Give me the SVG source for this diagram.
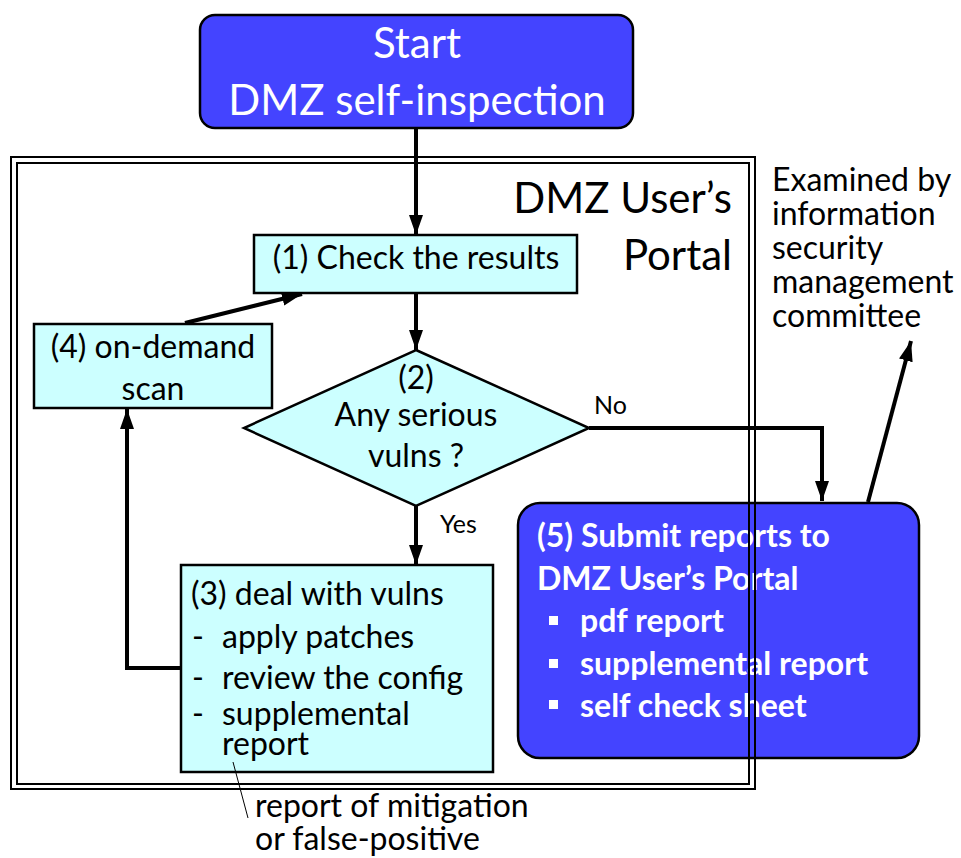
<svg xmlns="http://www.w3.org/2000/svg" width="961" height="858" viewBox="0 0 961 858">
<defs>
<style>
text{font-family:Lato,"Liberation Sans",sans-serif;fill:#000}
.t{font-size:32px}
.big{font-size:42px}
.sm{font-size:25px}
.w{fill:#fff}
.b{font-weight:bold}
.mid{text-anchor:middle}
.end{text-anchor:end}
.cyan{fill:#ccffff;stroke:#000;stroke-width:2.5}
.blue{fill:#4444ff;stroke:#000;stroke-width:2.5}
.con{fill:none;stroke:#000;stroke-width:4}
.frame{fill:none;stroke:#000;stroke-width:2}
</style>
<marker id="ah" markerUnits="userSpaceOnUse" markerWidth="22" markerHeight="16" refX="20" refY="7" orient="auto" viewBox="0 0 22 16">
<path d="M0,0 L20,7 L0,14 z" fill="#000"/>
</marker>
</defs>

<g id="start">
<rect class="blue" x="200" y="15" width="433" height="113" rx="15"/>
<text class="big w mid" x="417" y="58">Start</text>
<text class="big w mid" x="417" y="115">DMZ self-inspection</text>
</g>

<g id="n1">
<rect class="cyan" x="254" y="235" width="323" height="58"/>
<text class="t mid" x="416" y="269">(1) Check the results</text>
</g>

<g id="n2">
<polygon class="cyan" points="416,350 589,428 416,506 244,428"/>
<text class="t mid" x="416" y="389">(2)</text>
<text class="t mid" x="416" y="426">Any serious</text>
<text class="t mid" x="416" y="467">vulns ?</text>
</g>

<g id="n3">
<rect class="cyan" x="181" y="565" width="312" height="207"/>
<text class="t" x="191" y="605">(3) deal with vulns</text>
<text class="t" x="192" y="648">-</text>
<text class="t" x="222" y="648">apply patches</text>
<text class="t" x="192" y="689">-</text>
<text class="t" x="222" y="689">review the config</text>
<text class="t" x="192" y="725">-</text>
<text class="t" x="222" y="725">supplemental</text>
<text class="t" x="222" y="755">report</text>
</g>

<g id="n4">
<rect class="cyan" x="34" y="324" width="238" height="84"/>
<text class="t mid" x="153" y="358">(4) on-demand</text>
<text class="t mid" x="153" y="400">scan</text>
</g>

<g id="n5">
<rect class="blue" x="518" y="503" width="401" height="255" rx="22"/>
<text class="t w b" x="537" y="547">(5) Submit reports to</text>
<text class="t w b" x="537" y="590">DMZ User’s Portal</text>
<rect x="549" y="616" width="9" height="9" fill="#fff"/>
<text class="t w b" x="580" y="632">pdf report</text>
<rect x="549" y="659" width="9" height="9" fill="#fff"/>
<text class="t w b" x="580" y="675">supplemental report</text>
<rect x="549" y="700" width="9" height="9" fill="#fff"/>
<text class="t w b" x="580" y="717">self check sheet</text>
</g>

<g id="portal">
<rect class="frame" x="11" y="157" width="744" height="632"/>
<rect class="frame" x="17" y="163" width="732" height="621"/>
<text class="big end" x="732" y="213">DMZ User’s</text>
<text class="big end" x="732" y="270">Portal</text>
</g>

<g id="committee">
<text class="t" x="772" y="191">Examined by</text>
<text class="t" x="772" y="225">information</text>
<text class="t" x="772" y="259">security</text>
<text class="t" x="772" y="293">management</text>
<text class="t" x="772" y="327">committee</text>
</g>

<g id="note">
<text class="t" x="255" y="817">report of mitigation</text>
<text class="t" x="255" y="850">or false-positive</text>
</g>

<g id="connectors">
<line class="con" x1="416" y1="128" x2="416" y2="235" marker-end="url(#ah)"/>
<line class="con" x1="416" y1="293" x2="416" y2="350" marker-end="url(#ah)"/>
<line class="con" x1="416" y1="506" x2="416" y2="565" marker-end="url(#ah)"/>
<polyline class="con" points="589,428 822,428 822,501" marker-end="url(#ah)"/>
<line class="con" x1="185" y1="323" x2="302" y2="294" marker-end="url(#ah)"/>
<polyline class="con" points="181,668 127,668 127,409" marker-end="url(#ah)"/>
<line class="con" x1="868" y1="502" x2="911" y2="341" marker-end="url(#ah)"/>
<line x1="233" y1="762" x2="248" y2="818" stroke="#000" stroke-width="1"/>
<text class="sm" x="594" y="414">No</text>
<text class="sm" x="440" y="533">Yes</text>
</g>
</svg>
